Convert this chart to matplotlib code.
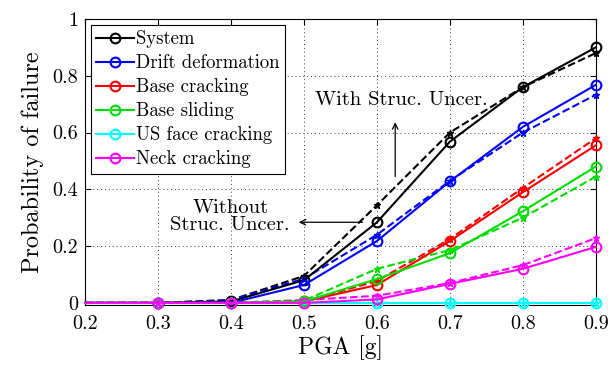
import numpy as np
import matplotlib
matplotlib.use("Agg")
import matplotlib.pyplot as plt

plt.rcParams['font.family'] = 'serif'
plt.rcParams['font.serif'] = ['cmr10', 'DejaVu Serif']
plt.rcParams['mathtext.fontset'] = 'cm'
plt.rcParams['axes.formatter.use_mathtext'] = True

# PGA levels
pga = [0.2, 0.3, 0.4, 0.5, 0.6, 0.7, 0.8, 0.9]

# without structural uncertainty (solid, open circles)
system = [0, 0, 0.005, 0.08, 0.284, 0.568, 0.76, 0.90]
drift = [0, 0, 0, 0.063, 0.218, 0.428, 0.62, 0.768]
base_crack = [0, 0, 0, 0.005, 0.063, 0.218, 0.39, 0.555]
base_slide = [0, 0, 0, 0.005, 0.084, 0.175, 0.323, 0.48]
us_face = [0, 0, 0, 0, 0, 0, 0, 0]
neck = [0, 0, 0, 0, 0.012, 0.067, 0.12, 0.197]

# with structural uncertainty (dashed)
system_u = [0, 0, 0.01, 0.095, 0.344, 0.60, 0.76, 0.88]
drift_u = [0, 0, 0.01, 0.085, 0.24, 0.43, 0.60, 0.733]
base_crack_u = [0, 0, 0, 0.005, 0.077, 0.225, 0.405, 0.58]
base_slide_u = [0, 0, 0, 0.008, 0.12, 0.186, 0.30, 0.445]
us_face_u = [0, 0, 0, 0, 0, 0, 0, 0]
neck_u = [0, 0, 0, 0.01, 0.025, 0.07, 0.133, 0.228]

labels = ['System', 'Drift deformation', 'Base cracking', 'Base sliding',
          'US face cracking', 'Neck cracking']
colors = ['black', 'blue', 'red', '#00e000', 'cyan', 'magenta']
solid = [system, drift, base_crack, base_slide, us_face, neck]
dashed = [system_u, drift_u, base_crack_u, base_slide_u, us_face_u, neck_u]

fig = plt.figure(figsize=(6.08, 3.65), dpi=100)
ax = fig.add_axes([0.140, 0.164, 0.840, 0.784])

for lab, c, ys, yd in zip(labels, colors, solid, dashed):
    ax.plot(pga, yd, '--', color=c, lw=1.5, marker='*', ms=5,
            markevery=slice(1, None), clip_on=False, zorder=3)
    ax.plot(pga, ys, '-', color=c, lw=1.5, marker='o', ms=7, mfc='none',
            mew=1.5, markevery=slice(1, None), clip_on=False, label=lab,
            zorder=4)

ax.set_xlim(0.2, 0.9)
ax.set_ylim(-0.008, 1)
ax.set_xticks(np.arange(0.2, 0.91, 0.1))
ax.set_xticklabels(['0.2', '0.3', '0.4', '0.5', '0.6', '0.7', '0.8', '0.9'])
ax.set_yticks([0, 0.2, 0.4, 0.6, 0.8, 1])
ax.set_yticklabels(['0', '0.2', '0.4', '0.6', '0.8', '1'])
ax.tick_params(direction='in', top=True, right=True, labelsize=14.5, length=4)
ax.tick_params(axis='x', pad=7)
ax.tick_params(axis='y', pad=5)
ax.grid(True, linestyle=(0, (1, 3)), color='0.25', lw=0.7)
ax.set_xlabel('PGA [g]', fontsize=17, labelpad=2)
ax.set_ylabel('Probability of failure', fontsize=17.5, labelpad=6)

# annotations with arrows
ax.annotate('', xy=(0.625, 0.646), xytext=(0.625, 0.435),
            arrowprops=dict(arrowstyle='->', color='black', lw=0.9))
ax.text(0.634, 0.716, 'With Struc. Uncer.', ha='center', va='center',
        fontsize=14.8)
ax.annotate('', xy=(0.489, 0.284), xytext=(0.584, 0.284),
            arrowprops=dict(arrowstyle='->', color='black', lw=0.9))
ax.text(0.399, 0.305, 'Without\nStruc. Uncer.', ha='center', va='center',
        fontsize=14.8, linespacing=0.95)

leg = ax.legend(loc='upper left', fontsize=13.5, handlelength=2.0,
                handletextpad=0.1, labelspacing=0.32, borderaxespad=0.3,
                fancybox=False, framealpha=1, borderpad=0.3)
leg.get_frame().set_edgecolor('black')
leg.get_frame().set_linewidth(0.8)

fig.savefig('out.png', dpi=100)
